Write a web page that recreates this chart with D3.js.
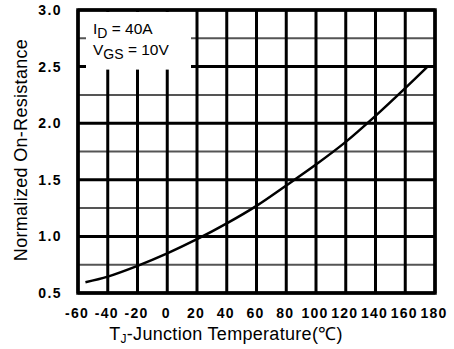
<!DOCTYPE html>
<html><head><meta charset="utf-8">
<script src="https://cdn.jsdelivr.net/npm/d3@7"></script>
<style>body{margin:0;background:#fff}svg{display:block}text{font-family:"Liberation Sans",Arial,sans-serif}</style>
</head><body>
<script>
const temps = [-55, -40, -20, 0, 20, 40, 60, 80, 100, 120, 140, 160, 175];
const rdson = [0.595, 0.645, 0.74, 0.85, 0.975, 1.115, 1.27, 1.45, 1.635, 1.835, 2.065, 2.31, 2.5];
const xTicks = [-60, -40, -20, 0, 20, 40, 60, 80, 100, 120, 140, 160, 180];
const yMajor = [0.5, 1.0, 1.5, 2.0, 2.5, 3.0];
const yMinor = [0.75, 1.25, 1.75, 2.25, 2.75];

const W = 454, H = 349;
const m = {l: 78, r: 19, t: 10, b: 56};
const svg = d3.select("body").append("svg").attr("width", W).attr("height", H);
const x = d3.scaleLinear().domain([-60, 180]).range([m.l, W - m.r]);
const y = d3.scaleLinear().domain([0.5, 3.0]).range([H - m.b, m.t]);

const g = svg.append("g");
// minor horizontal grid
g.selectAll(".hmin").data(yMinor).join("line")
  .attr("x1", x(-60)).attr("x2", x(180)).attr("y1", d => y(d)).attr("y2", d => y(d))
  .attr("stroke", "#555").attr("stroke-width", 2);
// major horizontal grid
g.selectAll(".hmaj").data(yMajor).join("line")
  .attr("x1", x(-60)).attr("x2", x(180)).attr("y1", d => y(d)).attr("y2", d => y(d))
  .attr("stroke", "#000").attr("stroke-width", 3);
// vertical grid
g.selectAll(".v").data(xTicks).join("line")
  .attr("x1", d => x(d)).attr("x2", d => x(d)).attr("y1", y(0.5)).attr("y2", y(3.0))
  .attr("stroke", "#000").attr("stroke-width", 3);

// legend box
g.append("rect").attr("x", x(-60) + 8).attr("y", y(3.0) + 2)
  .attr("width", x(20) - x(-60) - 14).attr("height", y(2.5) - y(3.0) + 1)
  .attr("fill", "#fff");
const leg = g.append("g").attr("font-size", 15.5).attr("fill", "#000");
const t1 = leg.append("text").attr("x", x(-60) + 15).attr("y", 34);
t1.append("tspan").text("I");
t1.append("tspan").attr("dy", 4).attr("font-size", 14).text("D");
t1.append("tspan").attr("dy", -4).text(" = 40A");
const t2 = leg.append("text").attr("x", x(-60) + 15).attr("y", 55);
t2.append("tspan").text("V");
t2.append("tspan").attr("dy", 4).attr("font-size", 14).text("GS");
t2.append("tspan").attr("dy", -4).text(" = 10V");

// border
g.append("rect").attr("x", x(-60)).attr("y", y(3.0))
  .attr("width", x(180) - x(-60)).attr("height", y(0.5) - y(3.0))
  .attr("fill", "none").attr("stroke", "#000").attr("stroke-width", 3.5);

// curve
const line = d3.line().x((d, i) => x(temps[i])).y(d => y(d)).curve(d3.curveCatmullRom);
g.append("path").datum(rdson).attr("d", line)
  .attr("fill", "none").attr("stroke", "#000").attr("stroke-width", 2.5);

// y tick labels
svg.append("g").selectAll("text").data(yMajor).join("text")
  .attr("x", 62).attr("y", d => y(d) + 5).attr("text-anchor", "end")
  .attr("font-size", 14).attr("font-weight", "bold").attr("letter-spacing", 1.4)
  .text(d => d.toFixed(1));
// x tick labels
svg.append("g").selectAll("text").data(xTicks).join("text")
  .attr("x", d => x(d) - 1).attr("y", 318).attr("text-anchor", "middle")
  .attr("font-size", 14).attr("font-weight", "bold").attr("letter-spacing", 1.2)
  .text(d => d);

// axis titles
const xt = svg.append("text").attr("x", 226).attr("y", 340).attr("text-anchor", "middle")
  .attr("font-size", 18).attr("letter-spacing", 0.3);
xt.append("tspan").text("T");
xt.append("tspan").attr("dy", 3).attr("font-size", 12).text("J");
xt.append("tspan").attr("dy", -3).text("-Junction Temperature(℃)");
svg.append("text").attr("transform", `translate(27,${150}) rotate(-90)`)
  .attr("text-anchor", "middle").attr("font-size", 18).attr("letter-spacing", 0.3)
  .text("Normalized On-Resistance");
</script>
</body></html>
